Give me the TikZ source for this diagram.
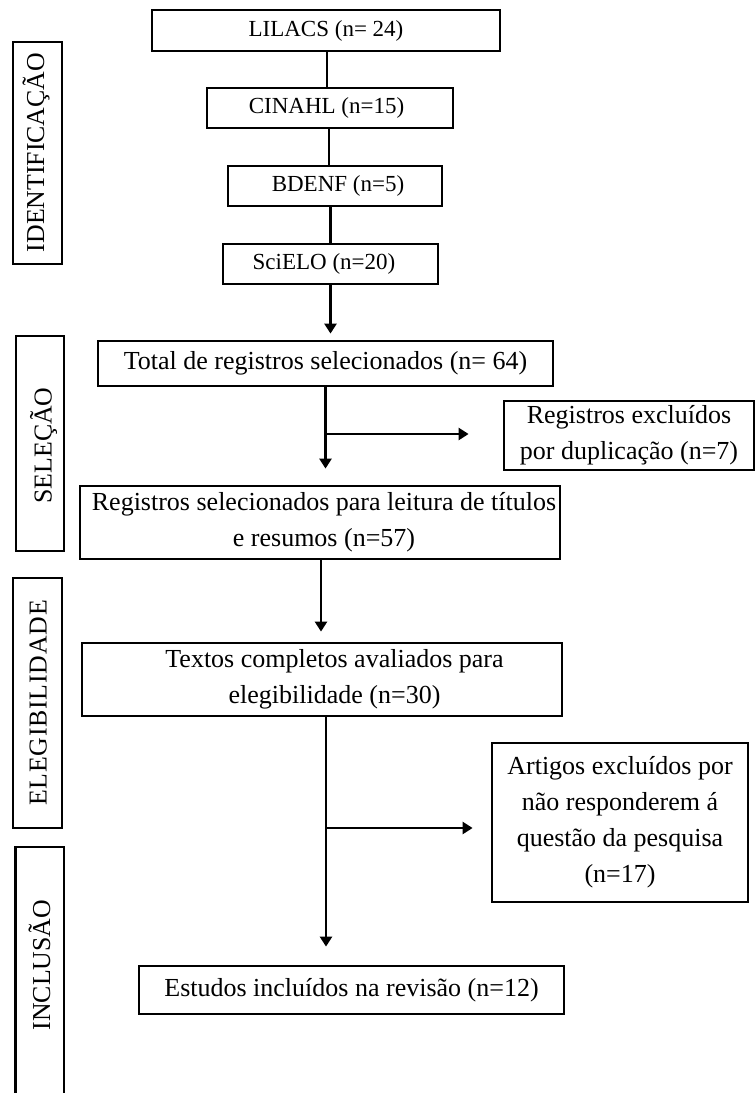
\documentclass[tikz,border=0pt]{standalone}
\usepackage{fontspec}
\setmainfont{Liberation Serif}
\newfontfamily\sidefontsp[LetterSpace=3]{Liberation Serif}
\usetikzlibrary{arrows.meta,calc}
\begin{document}
\begin{tikzpicture}[x=1pt,y=-1pt,
  box/.style={draw, line width=2.8pt, rectangle, inner sep=0pt, align=center,
              font=\fontsize{26}{36}\selectfont},
  dbox/.style={box, font=\fontsize{23}{28}\selectfont},
  side/.style={draw, line width=2.8pt, rectangle, inner sep=0pt},
  sidetext/.style={rotate=90, anchor=base, inner sep=0pt, font=\fontsize{25.8}{30}\selectfont},
  conn/.style={line width=2.5pt},
  arr/.style={conn, -{Triangle[width=12pt,length=10pt]}}]
\useasboundingbox (0,0) rectangle (755,1093);

% side labels
\node[side, minimum width=49pt, minimum height=222pt] (ident) at (37.5,153) {};
\node[sidetext] (identt) at (44,152.5) {IDENTIFICAÇÃO};
\node[side, minimum width=48pt, minimum height=215pt] (selec) at (40,443.5) {};
\node[sidetext] (select) at (51.5,445.5) {SELEÇÃO};
\node[side, minimum width=49pt, minimum height=250pt] (eleg) at (37.5,703) {};
\node[sidetext] (elegt) at (46.5,703) {\sidefontsp ELEGIBILIDADE};
\node[side, minimum width=48.5pt, minimum height=280pt] (incl) at (39.75,987) {};
\node[sidetext] (inclt) at (50,965) {INCLUSÃO};

% database boxes
\node[dbox, minimum width=348pt, minimum height=41pt] (lilacs) at (326,30.5) {LILACS (n= 24)};
\node[dbox, minimum width=246pt, minimum height=40pt] (cinahl) at (330,108) {CINAHL (n=15)\hspace*{7pt}};
\node[dbox, minimum width=214pt, minimum height=40pt] (bdenf) at (335,186) {\hspace*{6pt}BDENF (n=5)};
\node[dbox, minimum width=215pt, minimum height=40pt] (scielo) at (330.5,264) {SciELO (n=20)\hspace*{13pt}};

% main flow
\node[box, minimum width=455pt, minimum height=45pt] (total) at (325.5,363.5) {Total de registros selecionados (n= 64)};
\node[box, minimum width=250pt, minimum height=69pt] (excl) at (629,435.5) {Registros excluídos\\por duplicação (n=7)};
\node[box, minimum width=480pt, minimum height=73pt] (regsel) at (320,522.5) {\hspace*{8pt}Registros selecionados para leitura de títulos\\\hspace*{8pt}e resumos (n=57)};
\node[box, minimum width=480pt, minimum height=73pt] (textos) at (322,679.5) {\hspace*{25pt}Textos completos avaliados para\\\hspace*{25pt}elegibilidade (n=30)};
\node[box, minimum width=256pt, minimum height=159pt] (artigos) at (620,822.5) {Artigos excluídos por\\não responderem á\\questão da pesquisa\\(n=17)};
\node[box, minimum width=425pt, minimum height=48pt] (estudos) at (351.5,990) {Estudos incluídos na revisão (n=12)};

% connectors
\draw[conn] (lilacs.south) ++(1,0) coordinate (l1) -- (l1 |- cinahl.north);
\draw[conn] (cinahl.south) ++(-1,0) coordinate (c1) -- (c1 |- bdenf.north);
\draw[conn] (scielo.north) -- (scielo.north |- bdenf.south);
\draw[arr, shorten >=6pt] (scielo.south) -- (scielo.south |- total.north);
\draw[arr, shorten >=16pt] (total.south) -- (total.south |- regsel.north);
\coordinate (b1) at ($(total.south |- excl.west)+(0,-1.5)$);
\draw[arr, shorten >=34pt] (b1) -- (b1 -| excl.west);
\draw[arr, shorten >=10pt] (regsel.south) ++(1,0) coordinate (r1) -- (r1 |- textos.north);
\draw[arr, shorten >=18pt] (textos.south) ++(4,0) coordinate (t1) -- (t1 |- estudos.north);
\coordinate (b2) at ($(t1 |- artigos.west)+(0,5.5)$);
\draw[arr, shorten >=18pt] (b2) -- (b2 -| artigos.west);
\end{tikzpicture}
\end{document}
